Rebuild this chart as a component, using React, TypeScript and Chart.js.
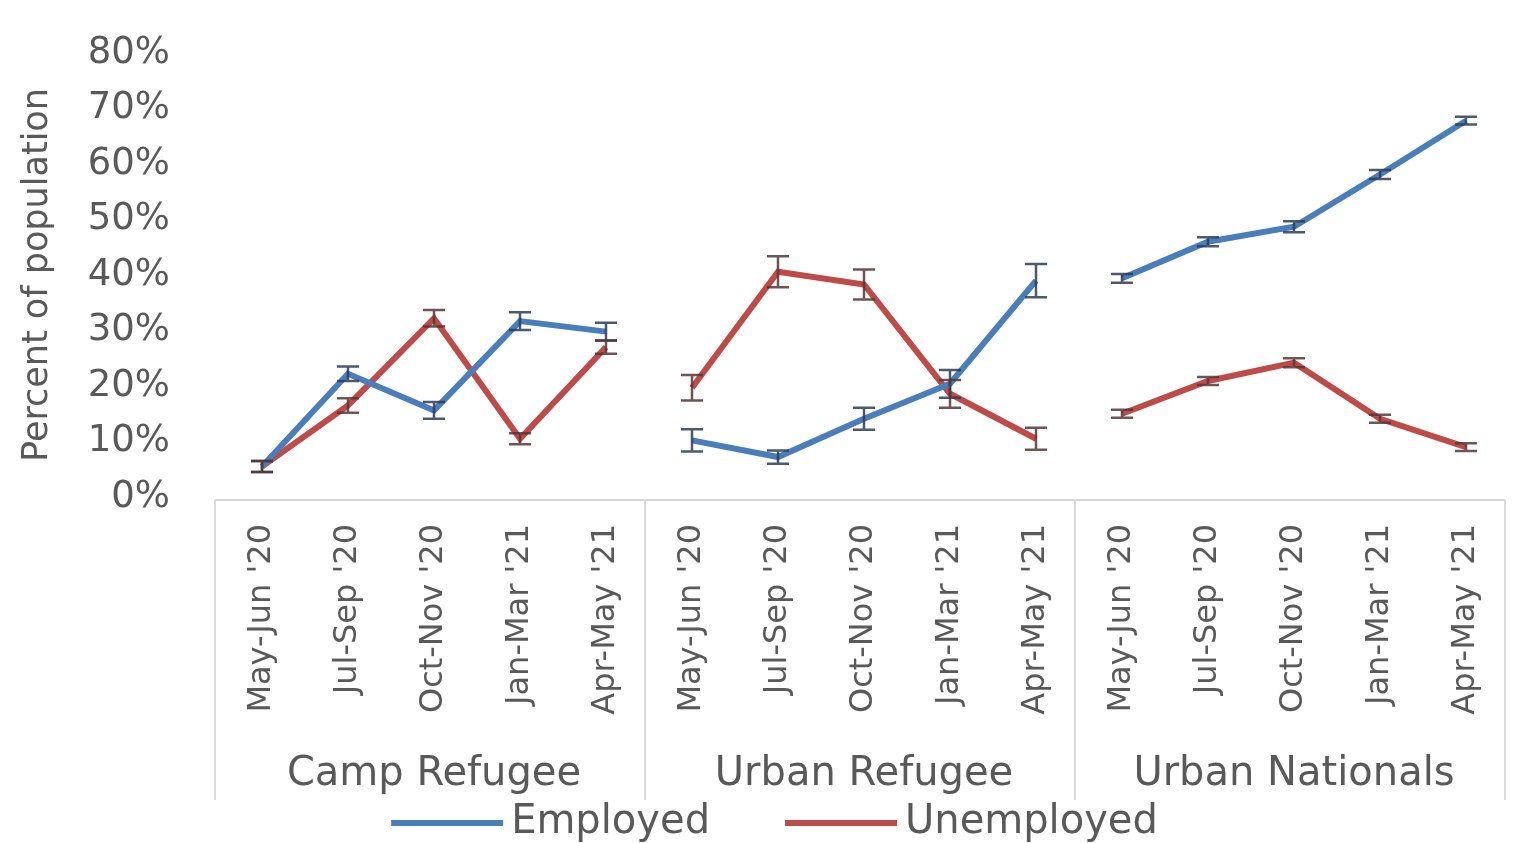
import React, { useEffect, useRef } from 'react';
import { Chart, registerables } from 'chart.js';

Chart.register(...registerables);

// Survey periods (inner axis level) and population groups (outer axis level)
const periods = ["May-Jun '20", "Jul-Sep '20", "Oct-Nov '20", "Jan-Mar '21", "Apr-May '21"];
const groups = ['Camp Refugee', 'Urban Refugee', 'Urban Nationals'];

// Share of population employed, per group
const employedCamp = [0.055, 0.222, 0.156, 0.317, 0.298];
const employedUrbanRefugee = [0.102, 0.072, 0.141, 0.204, 0.39];
const employedUrbanNationals = [0.394, 0.46, 0.487, 0.581, 0.678];

// Share of population unemployed, per group
const unemployedCamp = [0.055, 0.165, 0.322, 0.105, 0.27];
const unemployedUrbanRefugee = [0.197, 0.406, 0.383, 0.186, 0.105];
const unemployedUrbanNationals = [0.15, 0.209, 0.242, 0.141, 0.09];

// Half-widths of the confidence intervals
const employedCampErr = [0.01, 0.013, 0.015, 0.016, 0.016];
const employedUrbanRefugeeErr = [0.02, 0.012, 0.02, 0.025, 0.03];
const employedUrbanNationalsErr = [0.008, 0.008, 0.01, 0.008, 0.007];
const unemployedCampErr = [0.01, 0.013, 0.015, 0.01, 0.012];
const unemployedUrbanRefugeeErr = [0.023, 0.028, 0.027, 0.025, 0.02];
const unemployedUrbanNationalsErr = [0.007, 0.007, 0.008, 0.007, 0.007];

const yTicks = [0, 0.1, 0.2, 0.3, 0.4, 0.5, 0.6, 0.7, 0.8];

const FONT = "'DejaVu Sans', 'Open Sans', sans-serif";
const TEXT = '#595959';
const BLUE = '#4a7ebb';
const RED = '#be4b48';
const AXIS_LINE = '#d9d9d9';

const labels = groups.flatMap(() => periods);
const employed = [...employedCamp, ...employedUrbanRefugee, ...employedUrbanNationals];
const unemployed = [...unemployedCamp, ...unemployedUrbanRefugee, ...unemployedUrbanNationals];
const employedErr = [...employedCampErr, ...employedUrbanRefugeeErr, ...employedUrbanNationalsErr];
const unemployedErr = [...unemployedCampErr, ...unemployedUrbanRefugeeErr, ...unemployedUrbanNationalsErr];
const errorsByDataset = [employedErr, unemployedErr];
const errorColors = ['rgba(45,60,85,0.85)', 'rgba(85,55,55,0.85)'];

const perGroup = periods.length;

// Vertical error bars with caps, drawn over the lines
const errorBarsPlugin = {
  id: 'errorBars',
  afterDatasetsDraw(chart: any) {
    const { ctx } = chart;
    const yScale = chart.scales.y;
    chart.data.datasets.forEach((ds: any, di: number) => {
      const meta = chart.getDatasetMeta(di);
      const errs = errorsByDataset[di];
      ctx.save();
      ctx.strokeStyle = errorColors[di];
      ctx.lineWidth = 2.5;
      meta.data.forEach((pt: any, i: number) => {
        const v = ds.data[i];
        const e = errs[i];
        const top = yScale.getPixelForValue(v + e);
        const bot = yScale.getPixelForValue(v - e);
        const cap = 11;
        ctx.beginPath();
        ctx.moveTo(pt.x, top);
        ctx.lineTo(pt.x, bot);
        ctx.moveTo(pt.x - cap, top);
        ctx.lineTo(pt.x + cap, top);
        ctx.moveTo(pt.x - cap, bot);
        ctx.lineTo(pt.x + cap, bot);
        ctx.stroke();
      });
      ctx.restore();
    });
  },
};

// Two-level category axis frame, group names and the legend row
const groupAxisPlugin = {
  id: 'groupAxis',
  afterDraw(chart: any) {
    const { ctx, chartArea } = chart;
    const x = chart.scales.x;
    const n = labels.length;
    const step = x.getPixelForTick(1) - x.getPixelForTick(0);
    const edge = (i: number) => x.getPixelForTick(0) - step / 2 + i * step;
    const top = chartArea.bottom + 3;
    const bottom = x.bottom + 3;

    ctx.save();
    ctx.strokeStyle = AXIS_LINE;
    ctx.lineWidth = 2;
    ctx.beginPath();
    ctx.moveTo(edge(0) - 4, top);
    ctx.lineTo(edge(n) - 4, top);
    for (let g = 0; g <= groups.length; g++) {
      const px = edge(g * perGroup) - 4;
      ctx.moveTo(px, top);
      ctx.lineTo(px, bottom);
    }
    ctx.stroke();

    ctx.fillStyle = TEXT;
    ctx.font = `40px ${FONT}`;
    ctx.textAlign = 'center';
    ctx.textBaseline = 'middle';
    groups.forEach((g, gi) => {
      const cx = (edge(gi * perGroup) + edge((gi + 1) * perGroup)) / 2;
      ctx.fillText(g, cx, x.bottom - 22);
    });

    // legend
    const items = chart.data.datasets.map((ds: any) => ({ text: ds.label, color: ds.borderColor }));
    ctx.font = `40px ${FONT}`;
    ctx.textAlign = 'left';
    const lineLen = 112;
    const gapText = 8;
    const gapItem = 75;
    const widths = items.map((it: any) => lineLen + gapText + ctx.measureText(it.text).width);
    const total = widths.reduce((a: number, b: number) => a + b, 0) + gapItem * (items.length - 1);
    let cursor = chart.width / 2 - total / 2 + 16;
    const ly = chart.height - 20;
    items.forEach((it: any, i: number) => {
      ctx.strokeStyle = it.color;
      ctx.lineWidth = 6;
      ctx.beginPath();
      ctx.moveTo(cursor, ly);
      ctx.lineTo(cursor + lineLen, ly);
      ctx.stroke();
      ctx.fillStyle = TEXT;
      ctx.fillText(it.text, cursor + lineLen + gapText, ly);
      cursor += widths[i] + gapItem;
    });
    ctx.restore();
  },
};

const breakBetweenGroups = (ctx: any) =>
  ctx.p0DataIndex % perGroup === perGroup - 1 ? 'rgba(0,0,0,0)' : undefined;

export default function App() {
  const canvasRef = useRef<HTMLCanvasElement | null>(null);

  useEffect(() => {
    if (!canvasRef.current) return;
    const chart = new Chart(canvasRef.current, {
      type: 'line',
      data: {
        labels,
        datasets: [
          {
            label: 'Employed',
            data: employed,
            borderColor: BLUE,
            backgroundColor: BLUE,
            borderWidth: 6,
            pointRadius: 0,
            tension: 0,
            segment: { borderColor: breakBetweenGroups },
          },
          {
            label: 'Unemployed',
            data: unemployed,
            borderColor: RED,
            backgroundColor: RED,
            borderWidth: 6,
            pointRadius: 0,
            tension: 0,
            segment: { borderColor: breakBetweenGroups },
          },
        ],
      },
      options: {
        animation: false,
        responsive: true,
        maintainAspectRatio: false,
        layout: { padding: { top: 53, right: 8, bottom: 46, left: 0 } },
        plugins: {
          legend: { display: false },
          tooltip: { enabled: false },
        },
        scales: {
          x: {
            type: 'category',
            offset: true,
            grid: { display: false, drawTicks: false, tickLength: 0 },
            border: { display: false },
            ticks: {
              autoSkip: false,
              maxRotation: 90,
              minRotation: 90,
              padding: 27,
              color: TEXT,
              font: { family: FONT, size: 32 },
            },
            afterFit(scale: any) {
              scale.height = 300;
              scale.paddingLeft = 0;
              scale.paddingRight = 0;
            },
          },
          y: {
            min: 0,
            max: 0.8,
            afterBuildTicks(scale: any) {
              scale.ticks = yTicks.map((v) => ({ value: v }));
            },
            grid: { display: false, drawTicks: false, tickLength: 0 },
            border: { display: false },
            ticks: {
              padding: 49,
              color: TEXT,
              font: { family: FONT, size: 37 },
              callback: (v: any) => `${Math.round(Number(v) * 100)}%`,
            },
            title: {
              display: true,
              text: 'Percent of population',
              color: TEXT,
              font: { family: FONT, size: 35 },
              padding: { top: 17, bottom: 0 },
            },
            afterFit(scale: any) {
              scale.width = 219;
              scale.paddingTop = 0;
              scale.paddingBottom = 0;
            },
          },
        },
      },
      plugins: [errorBarsPlugin, groupAxisPlugin],
    });
    return () => chart.destroy();
  }, []);

  return (
    <div style={{ position: 'fixed', left: 0, top: 0, width: '100vw', height: '100vh', background: '#fff' }}>
      <canvas ref={canvasRef} />
    </div>
  );
}
